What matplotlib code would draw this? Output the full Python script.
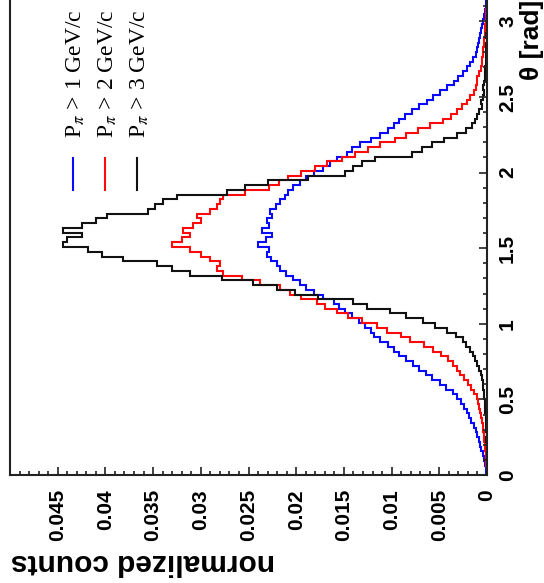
"""Rotated ROOT-style histogram: theta distribution of pions for three momentum cuts."""
import numpy as np
import matplotlib
matplotlib.use("Agg")
import matplotlib.pyplot as plt
from matplotlib.lines import Line2D
from matplotlib.ticker import MultipleLocator, FuncFormatter

# 100 bins over [0, pi], normalized counts
THETA_MAX = np.pi
N_BINS = 100

P_GT_1 = [0.0001, 0.0001, 0.0002, 0.0003, 0.0004, 0.0006, 0.0007, 0.0008, 0.0010, 0.0012,
          0.0014, 0.0017, 0.0019, 0.0021, 0.0024, 0.0027, 0.0031, 0.0036, 0.0043, 0.0049,
          0.0058, 0.0064, 0.0071, 0.0078, 0.0085, 0.0092, 0.0097, 0.0104, 0.0112, 0.0118,
          0.0122, 0.0128, 0.0134, 0.0141, 0.0149, 0.0155, 0.0160, 0.0172, 0.0181, 0.0190,
          0.0196, 0.0203, 0.0211, 0.0217, 0.0220, 0.0226, 0.0231, 0.0229, 0.0240, 0.0232,
          0.0225, 0.0236, 0.0229, 0.0231, 0.0225, 0.0227, 0.0221, 0.0217, 0.0212, 0.0209,
          0.0203, 0.0196, 0.0190, 0.0181, 0.0172, 0.0165, 0.0157, 0.0147, 0.0141, 0.0133,
          0.0122, 0.0112, 0.0104, 0.0098, 0.0092, 0.0086, 0.0079, 0.0071, 0.0063, 0.0057,
          0.0049, 0.0042, 0.0035, 0.0030, 0.0025, 0.0021, 0.0018, 0.0015, 0.0012, 0.0010,
          0.0009, 0.0008, 0.0007, 0.0006, 0.0005, 0.0004, 0.0003, 0.0002, 0.0001, 0.0001]

P_GT_2 = [0.0000, 0.0000, 0.0001, 0.0001, 0.0001, 0.0002, 0.0002, 0.0003, 0.0003, 0.0004,
          0.0004, 0.0005, 0.0006, 0.0007, 0.0008, 0.0009, 0.0011, 0.0014, 0.0017, 0.0020,
          0.0024, 0.0028, 0.0031, 0.0036, 0.0041, 0.0048, 0.0057, 0.0066, 0.0081, 0.0090,
          0.0105, 0.0115, 0.0131, 0.0146, 0.0157, 0.0170, 0.0178, 0.0195, 0.0206, 0.0217,
          0.0238, 0.0257, 0.0277, 0.0283, 0.0280, 0.0290, 0.0300, 0.0311, 0.0330, 0.0320,
          0.0311, 0.0319, 0.0308, 0.0300, 0.0304, 0.0290, 0.0283, 0.0280, 0.0277, 0.0254,
          0.0228, 0.0218, 0.0209, 0.0195, 0.0180, 0.0168, 0.0152, 0.0138, 0.0125, 0.0112,
          0.0096, 0.0085, 0.0072, 0.0060, 0.0046, 0.0038, 0.0031, 0.0026, 0.0021, 0.0018,
          0.0014, 0.0012, 0.0011, 0.0010, 0.0008, 0.0006, 0.0005, 0.0005, 0.0004, 0.0004,
          0.0003, 0.0003, 0.0002, 0.0002, 0.0002, 0.0001, 0.0001, 0.0001, 0.0000, 0.0000]

P_GT_3 = [0.0000, 0.0000, 0.0000, 0.0000, 0.0000, 0.0000, 0.0000, 0.0001, 0.0000, 0.0001,
          0.0001, 0.0001, 0.0001, 0.0002, 0.0002, 0.0002, 0.0003, 0.0003, 0.0004, 0.0004,
          0.0005, 0.0006, 0.0008, 0.0010, 0.0013, 0.0015, 0.0018, 0.0022, 0.0025, 0.0033,
          0.0042, 0.0055, 0.0067, 0.0085, 0.0102, 0.0126, 0.0140, 0.0177, 0.0201, 0.0220,
          0.0245, 0.0278, 0.0311, 0.0330, 0.0346, 0.0382, 0.0404, 0.0418, 0.0444, 0.0440,
          0.0425, 0.0444, 0.0425, 0.0410, 0.0398, 0.0355, 0.0348, 0.0340, 0.0325, 0.0273,
          0.0254, 0.0230, 0.0188, 0.0149, 0.0140, 0.0131, 0.0117, 0.0079, 0.0068, 0.0058,
          0.0045, 0.0031, 0.0022, 0.0016, 0.0013, 0.0010, 0.0008, 0.0005, 0.0006, 0.0004,
          0.0003, 0.0004, 0.0003, 0.0002, 0.0002, 0.0002, 0.0001, 0.0001, 0.0001, 0.0001,
          0.0001, 0.0000, 0.0001, 0.0000, 0.0000, 0.0000, 0.0000, 0.0000, 0.0000, 0.0000]

SERIES = [
    (P_GT_1, "#0a0aff", r"P$_{\pi}$ > 1 GeV/c"),
    (P_GT_2, "#ff0a0a", r"P$_{\pi}$ > 2 GeV/c"),
    (P_GT_3, "#111111", r"P$_{\pi}$ > 3 GeV/c"),
]
COUNT_TICKS = [0, 0.005, 0.01, 0.015, 0.02, 0.025, 0.03, 0.035, 0.04, 0.045]
THETA_TICKS = [0, 0.5, 1, 1.5, 2, 2.5, 3]

W, H = 544, 583


def px(x, y):
    # pixel coords (top-left origin) -> figure fraction
    return x / W, 1 - y / H


def main() -> None:
    plt.rcParams["mathtext.fontset"] = "stix"
    sans = ["Liberation Sans", "DejaVu Sans"]

    fig = plt.figure(figsize=(W / 100, H / 100), dpi=100)
    # whole ROOT canvas is turned 90 deg ccw: counts run right->left, theta bottom->top
    ax = fig.add_axes([10 / W, 1 - 475 / H, 477 / W, 475 / H])

    edges = np.linspace(0, THETA_MAX, N_BINS + 1)
    for vals, color, _ in SERIES:
        ax.stairs(vals, edges, orientation="horizontal", color=color, lw=1.5)

    ax.set_xlim(0.05, 0)
    ax.set_ylim(0, THETA_MAX)

    ax.set_xticks(COUNT_TICKS)
    ax.xaxis.set_minor_locator(MultipleLocator(0.001))
    ax.set_yticks(THETA_TICKS)
    ax.yaxis.set_minor_locator(MultipleLocator(0.1))
    fmt = FuncFormatter(lambda v, _: f"{v:g}")
    ax.xaxis.set_major_formatter(fmt)
    ax.yaxis.set_major_formatter(fmt)

    ax.yaxis.tick_right()
    ax.tick_params(axis="both", which="both", direction="in", width=1.2, color="#222222")
    ax.tick_params(axis="both", which="major", length=5.5)
    ax.tick_params(axis="both", which="minor", length=2.8)
    ax.tick_params(axis="x", top=False, bottom=True, labelrotation=90, pad=10)
    ax.tick_params(axis="y", left=False, right=True, labelrotation=90, pad=8)
    for lab in ax.get_xticklabels() + ax.get_yticklabels():
        lab.set_fontfamily(sans)
        lab.set_fontweight("bold")
        lab.set_fontsize(15)
    for lab in ax.get_yticklabels():
        lab.set_va("center")
        lab.set_ha("left")

    for side in ("left", "bottom", "right"):
        ax.spines[side].set_linewidth(1.5)
        ax.spines[side].set_color("#222222")
    ax.spines["top"].set_visible(False)

    # axis titles (rotated with the canvas)
    x, y = px(532, 0)
    fig.text(x, y, "θ [rad]", rotation=90, ha="center", va="top",
             fontsize=19, fontweight="bold", family=sans)
    x, y = px(11, 562)
    fig.text(x, y, "normalized counts", rotation=180, ha="left", va="center",
             fontsize=21.5, fontweight="bold", family=sans)

    # legend, drawn by hand since it is rotated too
    for k, (_, color, label) in enumerate(SERIES):
        cx = 73 + 32 * k
        x0, y0 = px(cx, 158)
        x1, y1 = px(cx, 190)
        fig.add_artist(Line2D([x0, x1], [y0, y1], transform=fig.transFigure,
                              color=color, lw=1.5))
        tx, ty = px(cx + 3, 138)
        fig.text(tx, ty, label, rotation=90, ha="center", va="bottom",
                 fontsize=17, family=["Liberation Serif", "DejaVu Serif"])

    fig.savefig("out.png", dpi=100)


if __name__ == "__main__":
    main()
